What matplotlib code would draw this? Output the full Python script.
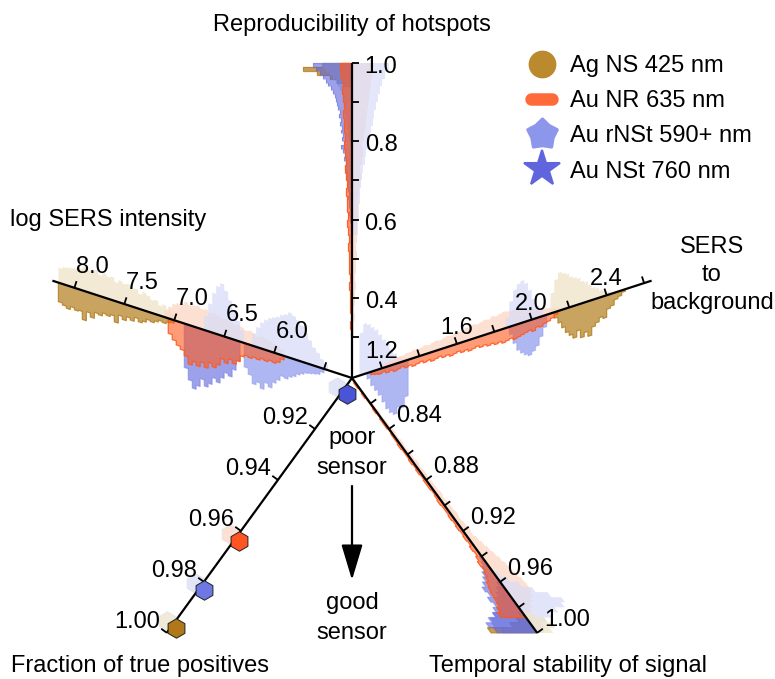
import numpy as np
import matplotlib
matplotlib.use('Agg')
import matplotlib.pyplot as plt
import matplotlib.transforms as mtransforms
from matplotlib.lines import Line2D
from matplotlib.markers import MarkerStyle
from matplotlib.path import Path

plt.rcParams['font.family'] = ['Liberation Sans', 'DejaVu Sans']
plt.rcParams['font.size'] = 17

# ---------------- data ----------------
groups = ['Ag NS 425 nm', 'Au NR 635 nm', 'Au rNSt 590+ nm', 'Au NSt 760 nm']

# histograms: (first bin edge, bin width, counts); "pale" = lighter mirrored set
# log SERS intensity
logi_w = 0.04
logi_ag = (7.00, [3, 4, 6, 5, 7, 9, 8, 11, 13, 10, 14, 12, 16, 13, 21, 15, 17, 16, 19, 18,
                  24, 20, 29, 21, 22, 20, 23, 21, 19])
logi_nr = (5.90, [4, 8, 10, 9, 11, 10, 12, 11, 13, 12, 14, 20, 24, 21, 26, 23, 30, 34, 31, 37,
                  33, 38, 35, 39, 32, 27, 24, 20, 15])
logi_nst = (6.34, [20, 30, 38, 36, 42, 48, 45, 52, 56, 50, 58, 62, 55, 44])
logi_rnst = (5.50, [4, 7, 8, 9, 10, 12, 14, 17, 19, 22, 21, 26, 30, 36, 33, 40, 35, 38, 30, 24])
logi_ag_pale = (7.00, [6, 9, 12, 10, 14, 13, 16, 18, 15, 19, 18, 21, 20, 22, 19, 23, 22, 24, 21,
                       25, 23, 22, 24, 21, 20, 19, 18, 17, 15])
logi_nr_pale = (5.90, [6, 8, 9, 10, 11, 12, 11, 13, 14, 13, 15, 16, 15, 17, 18, 17, 19, 20, 19,
                       21, 20, 22, 21, 20, 22, 19, 18, 16, 12, 7])
logi_nst_pale = (6.30, [12, 20, 30, 38, 46, 52, 48, 40, 28, 15])
logi_rnst_pale = (5.46, [5, 9, 14, 18, 24, 30, 36, 40, 43, 45, 42, 40, 37, 35, 33, 30, 26, 20, 12])

# reproducibility of hotspots
rep_ag = (0.94, 0.01, [8, 15, 22, 35, 49, 30])
rep_nst = (0.58, 0.01, [1, 2, 2, 3, 2, 3, 3, 4, 3, 4, 5, 4, 6, 5, 6, 7, 6, 8, 7, 9, 11, 8, 10, 9,
                        11, 10, 12, 11, 13, 12, 14, 15, 16, 17, 19, 21, 24, 26, 29, 32, 36, 39])
rep_rnst = (0.80, 0.01, [3, 4, 3, 5, 4, 6, 5, 7, 6, 8, 7, 9, 10, 12, 14, 16, 19, 22, 26, 30])
rep_nr = (0.30, 0.02, [1, 2, 1, 2, 2, 2, 3, 2, 3, 3, 3, 4, 3, 4, 5, 4, 5, 5, 6, 5, 6, 7, 6, 7,
                       8, 7, 8, 8, 9, 8, 9, 10, 9, 11, 12])
rep_blue_pale = (0.56, 0.02, [5, 6, 7, 6, 8, 8, 9, 10, 11, 13, 14, 16, 18, 19, 21, 22, 24, 26,
                              28, 30, 33, 37])
rep_nr_pale = (0.30, 0.02, [2, 2, 3, 2, 3, 3, 4, 3, 4, 4, 5, 4, 5, 6, 5, 6, 7, 6, 7, 8, 9, 8,
                            10, 11, 10, 12, 13, 14, 15, 16, 17, 18, 19, 20, 22])

# SERS to background
sb_w = 0.02
sb_rnst = (1.12, [6, 14, 20, 26, 34, 42, 47, 50, 44, 46, 36])
sb_nr = (1.14, [3, 4, 5, 4, 6, 5, 7, 6, 5, 7, 6, 8, 7, 6, 8, 7, 9, 8, 7, 9, 8, 10, 9, 8, 10,
                9, 11, 10, 9, 11, 10, 12, 11, 13, 12, 14, 13, 12, 14, 13, 12, 11, 10, 12, 9,
                10, 8, 7, 5, 3])
sb_nst = (1.88, [8, 18, 26, 30, 33, 35, 32, 28, 20, 12])
sb_ag = (2.12, [6, 12, 18, 24, 28, 32, 26, 34, 30, 35, 27, 24, 20, 22, 14, 12, 7, 5, 2])
sb_rnst_pale = (1.08, [42, 50, 48, 44, 40, 34, 28, 22, 16, 10, 6, 3])
sb_nr_pale = (1.20, [3, 4, 5, 5, 6, 6, 7, 7, 8, 7, 8, 9, 8, 9, 10, 9, 10, 11, 10, 12, 11, 12,
                     13, 12, 14, 13, 14, 15, 14, 16, 15, 16, 17, 16, 15, 16, 14, 13, 12, 11,
                     10, 9, 8, 7, 6, 5, 4, 3, 2, 2])
sb_nst_pale = (1.86, [10, 25, 35, 40, 42, 38, 30, 20, 12, 6])
sb_ag_pale = (2.10, [20, 32, 38, 36, 34, 30, 28, 26, 22, 20, 16, 12, 10, 7, 5, 3])

# temporal stability of signal
ts_w = 0.004
ts_nr = (0.80, [1, 2, 1, 2, 1, 1, 2, 1, 2, 2, 1, 2, 2, 3, 2, 2, 3, 2, 3, 2, 3, 3, 2, 3, 4, 3,
                3, 4, 3, 4, 3, 4, 3, 5, 4, 6, 8, 7, 9, 11, 14, 16, 17, 18, 19, 22, 25])
ts_nst = (0.940, [3, 5, 8, 11, 14, 18, 22, 20, 24, 22, 26, 30, 38, 44, 40])
ts_rnst = (0.960, [4, 8, 12, 16, 18, 22, 30, 36, 38, 34])
ts_ag = (0.984, [4, 10, 20, 46])
ts_nr_pale = (0.82, [2, 3, 2, 3, 3, 4, 3, 4, 3, 4, 4, 5, 4, 5, 4, 5, 5, 6, 5, 6, 6, 7, 6, 7,
                     8, 7, 9, 11, 13, 15, 17, 19, 20, 22, 24, 25, 24, 22, 18, 14, 10, 6, 4, 3, 2])
ts_blue_pale = (0.952, [5, 10, 18, 28, 40, 50, 46, 36, 26, 18, 12, 8])
ts_ag_pale = (0.984, [10, 18, 22, 16])

# fraction of true positives (one value per nanoparticle type)
tp_frac = [0.997, 0.963, 0.982, 0.905]

# ---------------- style ----------------
AG, NR, RNST, NST = '#B8862B', '#FF5A1E', '#7A88EA', '#5A62DC'
AG_P, NR_P, BL_P = '#EFE4C8', '#FCD6C4', '#D9DCF7'
LEG = ['#BC8A2E', '#FF6A3A', '#8C97EC', '#6065DE']
HEX = ['#B07818', '#FF5522', '#6D78E4', '#4A54D8']
HEX_P = ['#F2EAD8', '#FCE0D4', '#E2E4F8', '#E2E4F8']

W, H = 775, 679
CX, CY = 352, 301
L = 315

fig = plt.figure(figsize=(W / 100, H / 100), dpi=100)
ax = fig.add_axes([0, 0, 1, 1])
ax.set_axis_off()

spokes = {
    'rep': dict(angle=90, lo=0.195, hi=1.0, ticks=np.arange(0.3, 1.001, 0.1),
                labels=[0.4, 0.6, 0.8, 1.0], fmt='{:.1f}', side=-1, off=(29, -4), hdir=(1, 0)),
    'sb': dict(angle=18, lo=1.04, hi=2.64, ticks=np.arange(1.2, 2.61, 0.2),
               labels=[1.2, 1.6, 2.0, 2.4], fmt='{:.1f}', side=1, off=(0, 16), hdir=(0, 1)),
    'logi': dict(angle=162, lo=5.22, hi=8.22, ticks=np.arange(5.5, 8.01, 0.5),
                 labels=[6.0, 6.5, 7.0, 7.5, 8.0], fmt='{:.1f}', side=-1, off=(18, 21), hdir=(0, 1)),
    'ts': dict(angle=-54, lo=0.80, hi=1.00, ticks=np.arange(0.82, 1.001, 0.02),
               labels=[0.84, 0.88, 0.92, 0.96, 1.00], fmt='{:.2f}', side=1, off=(30, 13), hdir=(1, 0)),
    'tp': dict(angle=-126, lo=0.90, hi=1.00, ticks=np.arange(0.92, 1.001, 0.02),
               labels=[0.92, 0.94, 0.96, 0.98, 1.00], fmt='{:.2f}', side=-1, off=(-30, 11), hdir=None),
}


def spoke_tr(sp, hdir):
    a = np.deg2rad(sp['angle'])
    s = L / (sp['hi'] - sp['lo'])
    ux, uy = np.cos(a) * s, np.sin(a) * s
    m = np.array([[ux, hdir[0], CX - sp['lo'] * ux],
                  [uy, hdir[1], CY - sp['lo'] * uy],
                  [0, 0, 1.0]])
    return mtransforms.Affine2D(m) + ax.transData


def perp(sp):
    b = np.deg2rad(sp['angle'] + sp['side'] * 90)
    return (np.cos(b), np.sin(b))


def hist(tr, start, width, counts, color, solid, alpha, z, edge=0.9):
    c = np.asarray(counts, float)
    edges = start + width * np.arange(len(c) + 1)
    if solid:
        ax.stairs(-c, edges, baseline=0, fill=True, color=color, alpha=alpha, lw=0,
                  transform=tr, zorder=z)
        ax.stairs(-c, edges, baseline=0, fill=False, color=color, alpha=edge, lw=0.9,
                  transform=tr, zorder=z)
    else:
        ax.stairs(c, edges, baseline=0, fill=True, color=color, alpha=alpha, lw=0,
                  transform=tr, zorder=z)


# histograms
tr = spoke_tr(spokes['logi'], spokes['logi']['hdir'])
for d, col in [(logi_ag_pale, AG_P), (logi_nr_pale, NR_P), (logi_nst_pale, BL_P), (logi_rnst_pale, BL_P)]:
    hist(tr, d[0], logi_w, d[1], col, False, 0.75, 1)
for d, col, a, e in [(logi_ag, AG, 0.75, 0.9), (logi_rnst, RNST, 0.6, 0.35),
                     (logi_nst, NST, 0.6, 0.35), (logi_nr, NR, 0.6, 0.9)]:
    hist(tr, d[0], logi_w, d[1], col, True, a, 2, e)

tr = spoke_tr(spokes['rep'], spokes['rep']['hdir'])
for d, col in [(rep_nr_pale, NR_P), (rep_blue_pale, BL_P)]:
    hist(tr, d[0], d[1], d[2], col, False, 0.7, 1)
for d, col, a, e in [(rep_ag, AG, 0.8, 0.9), (rep_nst, NST, 0.6, 0.35),
                     (rep_rnst, RNST, 0.5, 0.35), (rep_nr, NR, 0.65, 0.9)]:
    hist(tr, d[0], d[1], d[2], col, True, a, 2, e)

tr = spoke_tr(spokes['sb'], spokes['sb']['hdir'])
for d, col in [(sb_rnst_pale, BL_P), (sb_nr_pale, NR_P), (sb_nst_pale, BL_P), (sb_ag_pale, AG_P)]:
    hist(tr, d[0], sb_w, d[1], col, False, 0.75, 1)
for d, col, a, e in [(sb_ag, AG, 0.75, 0.9), (sb_rnst, RNST, 0.6, 0.35),
                     (sb_nst, RNST, 0.6, 0.35), (sb_nr, NR, 0.6, 0.9)]:
    hist(tr, d[0], sb_w, d[1], col, True, a, 2, e)

tr = spoke_tr(spokes['ts'], spokes['ts']['hdir'])
for d, col in [(ts_nr_pale, NR_P), (ts_blue_pale, BL_P), (ts_ag_pale, AG_P)]:
    hist(tr, d[0], ts_w, d[1], col, False, 0.75, 1)
for d, col, a, e in [(ts_ag, AG, 0.8, 0.9), (ts_rnst, RNST, 0.6, 0.35),
                     (ts_nst, NST, 0.6, 0.35), (ts_nr, NR, 0.6, 0.9)]:
    hist(tr, d[0], ts_w, d[1], col, True, a, 2, e)

# spokes, ticks and tick labels
for key, sp in spokes.items():
    p = perp(sp)
    trp = spoke_tr(sp, p)
    ax.plot([sp['lo'], sp['hi']], [0, 0], color='k', lw=1.6, transform=trp, zorder=4,
            solid_capstyle='butt')
    ax.vlines(sp['ticks'], 0, 7, color='k', lw=1.3, transform=trp, zorder=4)
    lab_tr = mtransforms.offset_copy(trp, fig=fig, x=sp['off'][0], y=sp['off'][1], units='dots')
    for v in sp['labels']:
        ax.text(v, 0, sp['fmt'].format(v), transform=lab_tr, ha='center', va='center', zorder=6)

# fraction of true positives as hexagons
sp = spokes['tp']
b = np.deg2rad(sp['angle'] + 90)
trh = spoke_tr(sp, (np.cos(b), np.sin(b)))
for v, pc in zip(tp_frac, HEX_P):
    ax.plot([v], [-7], ls='', marker='h', ms=14, mfc=pc, mec='#e6e6e6', mew=0.6,
            transform=trh, zorder=3)
for v, c in zip(tp_frac, HEX):
    ax.plot([v], [5], ls='', marker='h', ms=14, mfc=c, mec='#202020', mew=0.7,
            transform=trh, zorder=5)

# titles of the spokes
ax.text(352, 654, 'Reproducibility of hotspots', ha='center', va='center')
ax.text(10, 459, 'log SERS intensity', ha='left', va='center')
ax.text(712, 404, 'SERS\nto\nbackground', ha='center', va='center', linespacing=1.35)
ax.text(140, 13, 'Fraction of true positives', ha='center', va='center')
ax.text(568, 13, 'Temporal stability of signal', ha='center', va='center')

# direction hint
ax.text(CX, 226, 'poor\nsensor', ha='center', va='center', linespacing=1.45)
ax.text(CX, 61, 'good\nsensor', ha='center', va='center', linespacing=1.45)
ax.annotate('', xy=(CX, 99), xytext=(CX, 193),
            arrowprops=dict(arrowstyle='-|>,head_length=1.0,head_width=0.3', lw=1.6,
                            color='k', mutation_scale=22, shrinkA=0, shrinkB=0))

# legend
ang = np.pi / 2 + np.arange(10) * np.pi / 5
rad = np.where(np.arange(10) % 2 == 0, 1.0, 0.72)
pts = np.column_stack([rad * np.cos(ang), rad * np.sin(ang)])
fat_star = MarkerStyle(Path(np.vstack([pts, pts[:1]]), closed=True), joinstyle='round')
handles = [
    Line2D([], [], ls='', marker='o', ms=19, mfc=LEG[0], mec=LEG[0]),
    Line2D([], [], color=LEG[1], lw=9, solid_capstyle='round'),
    Line2D([], [], ls='', marker=fat_star, ms=22, mfc=LEG[2], mec=LEG[2], mew=2.5),
    Line2D([], [], ls='', marker='*', ms=27, mfc=LEG[3], mec=LEG[3], mew=1.5),
]
ax.legend(handles, groups, loc='upper left', bbox_to_anchor=(531, 624),
          bbox_transform=ax.transData, frameon=False, handlelength=0.9,
          handletextpad=0.75, labelspacing=0.56, borderpad=0, borderaxespad=0)

ax.set_xlim(0, W)
ax.set_ylim(0, H)
fig.savefig('out.png', dpi=100)
